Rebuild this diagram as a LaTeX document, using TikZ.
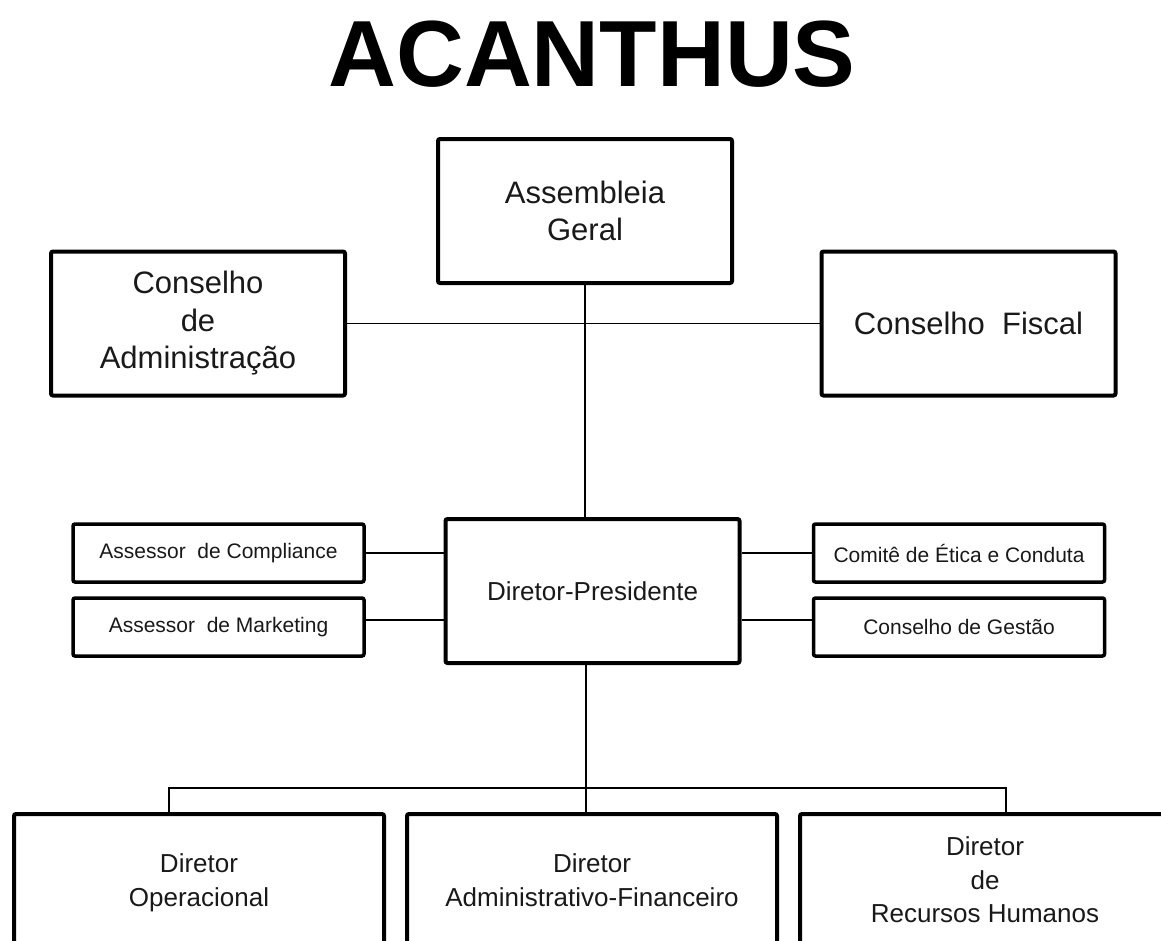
\documentclass[tikz,border=0pt]{standalone}
\usepackage{fontspec}
\setmainfont{Liberation Sans}
\begin{document}
\begin{tikzpicture}[x=1pt,y=-1pt,
    box/.style={draw=black, line width=4pt, rounded corners=2pt, inner sep=0pt, align=center, text=black!90},
    bigbox/.style={box, minimum width=294pt, minimum height=144pt, font=\fontsize{31}{37.5}\selectfont},
    smallbox/.style={box, line width=3.5pt, minimum width=291pt, minimum height=58pt, font=\fontsize{21}{25}\selectfont},
    dirbox/.style={box, minimum width=370pt, minimum height=142pt, font=\fontsize{26}{33.5}\selectfont},
    link/.style={line width=1.6pt}]
    \useasboundingbox (0,0) rectangle (1161,940);
    \clip (0,0) rectangle (1161,940);

    % title
    \node[font=\fontsize{94}{100}\selectfont\bfseries] (title) at (592,54) {ACANTHUS};

    % upper level
    \node[bigbox] (ag) at (585,211) {Assembleia\\Geral};
    \node[bigbox] (ca) at (198,323.5) {Conselho\\de\\Administração};
    \node[bigbox] (cf) at (968.5,323.5) {Conselho\ \ Fiscal};

    % presidency and advisors
    \node[bigbox, font=\fontsize{26}{32}\selectfont] (dp) at (592.5,591) {Diretor-Presidente};
    \node[smallbox] (acomp) at (218.5,553) {Assessor\ \ de Compliance};
    \node[smallbox] (amkt) at (218.5,627) {Assessor\ \ de Marketing};
    \node[smallbox] (cet) at (959,553) {Comitê de Ética e Conduta};
    \node[smallbox] (cg) at (959,627) {Conselho de Gestão};

    % directors
    \node[dirbox] (dop) at (199,885) {Diretor\\Operacional\strut};
    \node[dirbox] (daf) at (592,885) {Diretor\\Administrativo-Financeiro\strut};
    \node[dirbox] (drh) at (985,885) {Diretor\\de\\Recursos Humanos\strut};

    % connectors
    \draw[link] (ca.east) -- (cf.west);
    \draw[link] (ag.south) -- (ag.south |- dp.north);
    \draw[link] (acomp.east) -- (acomp.east -| dp.west);
    \draw[link] ([yshift=7pt]amkt.east) -- ([yshift=7pt]amkt.east -| dp.west);
    \draw[link] (cet.west) -- (cet.west -| dp.east);
    \draw[link] ([yshift=7pt]cg.west) -- ([yshift=7pt]cg.west -| dp.east);

    \coordinate (bus) at (586,788);
    \draw[link] (dp.south -| bus) -- (bus);
    \draw[link] (169,812 |- dop.north) -- (169,788) -- (1006,788) -- (1006,812 |- drh.north);
    \draw[link] (bus) -- (bus |- daf.north);
\end{tikzpicture}
\end{document}
